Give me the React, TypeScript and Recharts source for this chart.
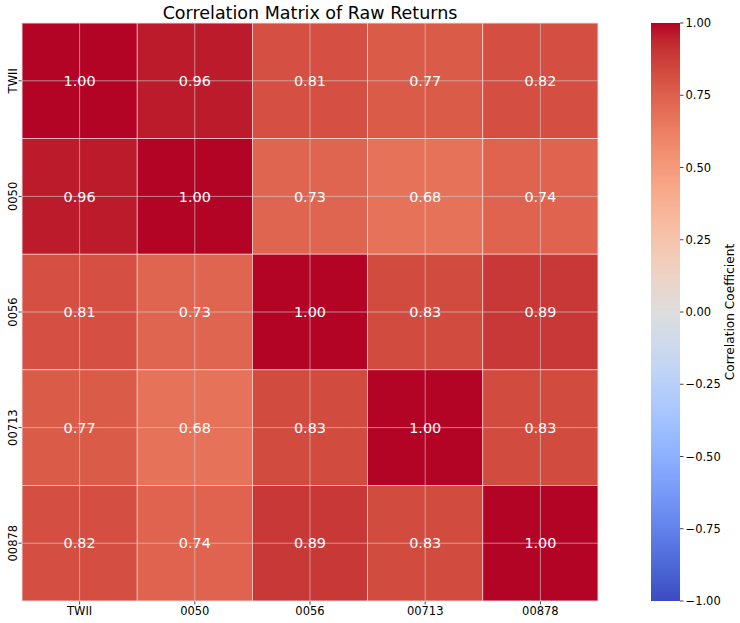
import React from 'react';
import { ScatterChart, Scatter, XAxis, YAxis, CartesianGrid, BarChart, Bar } from 'recharts';

// tickers, in matrix order
const labels = ['TWII', '0050', '0056', '00713', '00878'];

// correlation rows
const rowTWII = [1.0, 0.96, 0.81, 0.77, 0.82];
const row0050 = [0.96, 1.0, 0.73, 0.68, 0.74];
const row0056 = [0.81, 0.73, 1.0, 0.83, 0.89];
const row00713 = [0.77, 0.68, 0.83, 1.0, 0.83];
const row00878 = [0.82, 0.74, 0.89, 0.83, 1.0];
const matrix = [rowTWII, row0050, row0056, row00713, row00878];

const cbTicks = [-1, -0.75, -0.5, -0.25, 0, 0.25, 0.5, 0.75, 1];

// coolwarm colormap, 33 evenly spaced control points
const coolwarm: number[][] = [
  [0.2298, 0.2987, 0.7537], [0.2662, 0.3531, 0.8015], [0.3039, 0.4065, 0.845], [0.3428, 0.4588, 0.8837],
  [0.383, 0.5094, 0.9174], [0.4244, 0.5581, 0.9456], [0.4667, 0.6046, 0.9682], [0.5096, 0.6483, 0.9848],
  [0.553, 0.6889, 0.9954], [0.5963, 0.7261, 0.9998], [0.6392, 0.7596, 0.9982], [0.6813, 0.789, 0.9904],
  [0.7222, 0.814, 0.9766], [0.7615, 0.8343, 0.9569], [0.7987, 0.8498, 0.9317], [0.8335, 0.8602, 0.9011],
  [0.8654, 0.8654, 0.8654], [0.8978, 0.8489, 0.8209], [0.9241, 0.8274, 0.7745], [0.9445, 0.8009, 0.7267],
  [0.9589, 0.7698, 0.678], [0.9673, 0.7341, 0.6288], [0.97, 0.6943, 0.5794], [0.9668, 0.6504, 0.5303],
  [0.958, 0.6028, 0.4818], [0.9437, 0.5518, 0.4342], [0.9239, 0.4973, 0.388], [0.899, 0.4396, 0.3432],
  [0.8692, 0.3783, 0.3003], [0.8346, 0.3129, 0.2593], [0.7956, 0.2413, 0.2205], [0.7525, 0.1572, 0.1841],
  [0.7057, 0.0156, 0.1502],
];

function cmap(t: number) {
  const p = Math.max(0, Math.min(1, t)) * (coolwarm.length - 1);
  const i = Math.min(Math.floor(p), coolwarm.length - 2);
  const f = p - i;
  const c = coolwarm[i].map((a, k) => Math.round((a + (coolwarm[i + 1][k] - a) * f) * 255));
  return `rgb(${c[0]},${c[1]},${c[2]})`;
}
const colorFor = (v: number) => cmap((v + 1) / 2);

const cells = matrix.flatMap((row, i) => row.map((v, j) => ({ x: j + 0.5, y: i + 0.5, v })));
const centers = labels.map((_, i) => i + 0.5);

const W = 600;
const H = 623;
const MARGIN = { top: 23, right: 2, bottom: 0, left: 0 };
const Y_W = 22;
const X_H = 22;
const CW = (W - MARGIN.left - MARGIN.right - Y_W) / labels.length;
const CH = (H - MARGIN.top - MARGIN.bottom - X_H) / labels.length;

const font = '"DejaVu Sans", sans-serif';

function CellShape(props: any) {
  const { cx, cy, payload } = props;
  return (
    <rect
      x={cx - CW / 2}
      y={cy - CH / 2}
      width={CW}
      height={CH}
      fill={colorFor(payload.v)}
      stroke="#fff"
      strokeOpacity={0.6}
      strokeWidth={0.8}
    />
  );
}

function CellText(props: any) {
  const { cx, cy, payload } = props;
  return (
    <text x={cx} y={cy} dy="0.36em" textAnchor="middle" fill="#fff" fontSize={14.4}>
      {payload.v.toFixed(2)}
    </text>
  );
}

function YTick(props: any) {
  const { x, y, payload } = props;
  return (
    <text x={x} y={y} transform={`rotate(-90 ${x} ${y})`} textAnchor="middle" fill="#000" fontSize={11.5}>
      {labels[Math.floor(payload.value)]}
    </text>
  );
}

const fmt = (v: number) => (v < 0 ? '\u2212' : '') + Math.abs(v).toFixed(2);

export default function App() {
  const cbData = [{ name: 'cb', range: [-1, 1] }];
  return (
    <div style={{ position: 'relative', width: 740, height: 623, background: '#fff', fontFamily: font }}>
      <style>{'body{margin:0}'}</style>
      <svg width={620} height={26} style={{ position: 'absolute', left: 0, top: 0 }}>
        <text x={310} y={19} textAnchor="middle" fontSize={17.5} fill="#000">
          Correlation Matrix of Raw Returns
        </text>
      </svg>
      <div style={{ position: 'absolute', left: 0, top: 0 }}>
        <ScatterChart width={W} height={H} margin={MARGIN}>
          <XAxis
            type="number"
            dataKey="x"
            domain={[0, 5]}
            ticks={centers}
            tickFormatter={(v: number) => labels[Math.floor(v)]}
            height={X_H}
            axisLine={false}
            tickSize={3.5}
            tickMargin={2.5}
            tickLine={{ stroke: '#444' }}
            tick={{ fill: '#000', fontSize: 11.5 }}
            interval={0}
          />
          <YAxis
            type="number"
            dataKey="y"
            domain={[0, 5]}
            reversed
            ticks={centers}
            width={Y_W}
            axisLine={false}
            tickSize={3.5}
            tickMargin={1.5}
            tickLine={{ stroke: '#444' }}
            tick={<YTick />}
            interval={0}
          />
          <Scatter data={cells} shape={<CellShape />} isAnimationActive={false} />
          <CartesianGrid stroke="#d4d4d4" strokeOpacity={0.75} strokeWidth={0.8} zIndex={700} />
          <Scatter data={cells} shape={<CellText />} isAnimationActive={false} zIndex={800} />
        </ScatterChart>
      </div>
      <div style={{ position: 'absolute', left: 651, top: 0 }}>
        <BarChart width={89} height={623} data={cbData} margin={{ top: 23, right: 0, bottom: 22, left: 0 }} barCategoryGap={0}>
          <defs>
            <linearGradient id="cbGrad" x1="0" y1="1" x2="0" y2="0">
              {coolwarm.map((_, i) => (
                <stop key={i} offset={i / (coolwarm.length - 1)} stopColor={cmap(i / (coolwarm.length - 1))} />
              ))}
            </linearGradient>
          </defs>
          <XAxis dataKey="name" hide />
          <YAxis
            orientation="right"
            type="number"
            domain={[-1, 1]}
            ticks={cbTicks}
            width={60}
            axisLine={false}
            tickSize={3.5}
            tickMargin={2}
            tickLine={{ stroke: '#444' }}
            tick={{ fill: '#000', fontSize: 11.5 }}
            tickFormatter={fmt}
            interval={0}
            label={{
              content: (p: any) => {
                const vb = p.viewBox;
                const lx = vb.x + vb.width - 6;
                const ly = vb.y + vb.height / 2;
                return (
                  <text x={lx} y={ly} transform={`rotate(-90 ${lx} ${ly})`} textAnchor="middle" fontSize={12.2} fill="#000">
                    Correlation Coefficient
                  </text>
                );
              },
            }}
          />
          <Bar dataKey="range" fill="url(#cbGrad)" isAnimationActive={false} />
        </BarChart>
      </div>
    </div>
  );
}
